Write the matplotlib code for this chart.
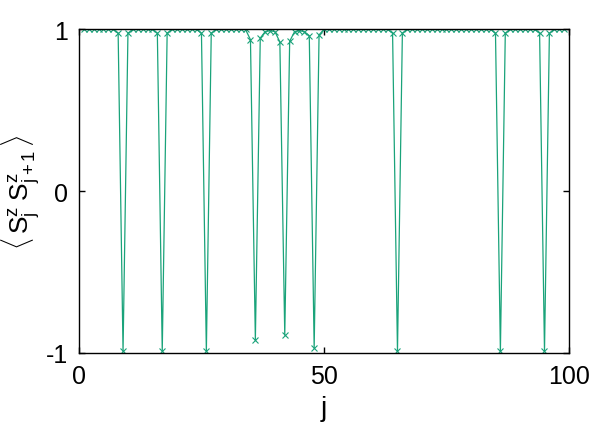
import numpy as np
import matplotlib
matplotlib.use('Agg')
import matplotlib.pyplot as plt

# bond index j = 1..99
j = np.arange(1, 100)

# nearest-neighbour correlation, mostly ~1 with domain-wall dips
dip_j = [9, 17, 26, 36, 42, 48, 65, 86, 95]
dip_val = [-0.99, -0.99, -0.99, -0.92, -0.89, -0.97, -0.99, -0.99, -0.99]
side_j = [8, 10, 16, 18, 25, 27, 35, 37, 38, 39, 40, 41, 43, 44, 45, 46, 47, 49,
          64, 66, 85, 87, 94, 96]
side_val = [0.975, 0.975, 0.975, 0.975, 0.975, 0.975, 0.935, 0.945, 0.985, 0.99,
            0.985, 0.92, 0.925, 0.985, 0.99, 0.985, 0.96, 0.965,
            0.975, 0.975, 0.975, 0.975, 0.975, 0.975]
base_val = 0.998

xticks = [0, 50, 100]
yticks = [-1, 0, 1]
ytick_labels = ['-1', '0', '1']

szz = np.full(len(j), base_val)
for a, v in zip(side_j, side_val):
    szz[a - 1] = v
for a, v in zip(dip_j, dip_val):
    szz[a - 1] = v

plt.rcParams['font.family'] = ['Liberation Sans', 'DejaVu Sans']
plt.rcParams['mathtext.fontset'] = 'custom'
plt.rcParams['mathtext.rm'] = 'Liberation Sans'
plt.rcParams['mathtext.it'] = 'Liberation Sans'

fig = plt.figure(figsize=(5.98, 4.31), dpi=100)
ax = fig.add_axes([0.132, 0.179, 0.8195, 0.751])
ax.plot(j, szz, color='#1aa37a', linewidth=0.9, marker='x', markersize=4,
        markeredgewidth=0.8)

ax.set_xlim(0, 100)
ax.set_ylim(-1, 1)
ax.set_xticks(xticks)
ax.set_yticks(yticks)
ax.set_yticklabels(ytick_labels)
ax.tick_params(direction='in', length=4, width=1, labelsize=18, pad=8,
               top=True, right=True)
for s in ax.spines.values():
    s.set_linewidth(1)
ax.set_xlabel('j', fontsize=20)
ax.xaxis.set_label_coords(0.5, -0.13)
ax.set_ylabel(r'$\langle\,\mathrm{S}_\mathrm{j}^\mathrm{z}\;\mathrm{S}_\mathrm{j+1}^\mathrm{z}\,\rangle$',
              fontsize=19)
ax.yaxis.set_label_coords(-0.075, 0.5)

fig.savefig('out.png', dpi=100)
